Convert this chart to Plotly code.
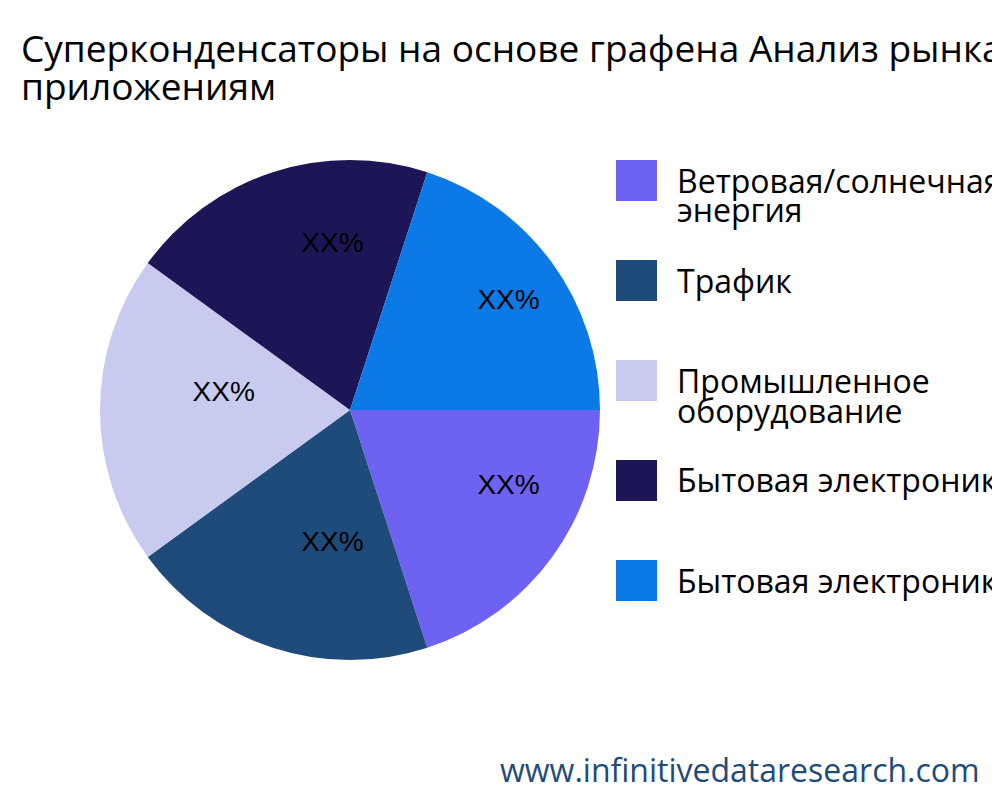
import plotly.graph_objects as go

W, H = 992, 776

title_lines = ["Суперконденсаторы на основе графена Анализ рынка по", "приложениям"]
categories = [
    ["Ветровая/солнечная", "энергия"],
    ["Трафик"],
    ["Промышленное", "оборудование"],
    ["Бытовая электроника"],
    ["Бытовая электроника"],
]
values = [20, 20, 20, 20, 20]
slice_text = ["XX%", "XX%", "XX%", "XX%", "XX%"]
colors = ["#6E62F2", "#1F4B7A", "#C9CAF0", "#1C1656", "#0B79E6"]
watermark = "www.infinitivedataresearch.com"

FONT = "Open Sans"
OFF = 8  # the page body margin shifts the figure by 8 px


def px(x):
    return (x - OFF) / W


def py(y):
    return 1 - (y - OFF) / H


# pie labels must be unique, otherwise plotly merges the two identical names
pie_labels = [" ".join(c) + "\u200b" * i for i, c in enumerate(categories)]

# padding pushes the visible label right of and above the slice bisector
pad = "\u00a0" * 8
fig = go.Figure(go.Pie(
    labels=pie_labels,
    values=values,
    text=[pad + t + "<br>\u00a0" for t in slice_text],
    textinfo="text",
    textposition="inside",
    insidetextorientation="horizontal",
    insidetextfont=dict(family="Liberation Sans", size=28, color="black"),
    marker=dict(colors=colors),
    sort=False,
    direction="clockwise",
    rotation=90,
    showlegend=False,
    domain=dict(x=[px(100), px(600)], y=[py(660), py(160)]),
))

# legend drawn by hand: big square swatches, one row every 100 px
shapes = []
annotations = []
for i, (lines, col) in enumerate(zip(categories, colors)):
    top = 160 + 100 * i
    shapes.append(dict(type="rect", xref="paper", yref="paper",
                       x0=px(616), x1=px(657), y0=py(top), y1=py(top + 41),
                       fillcolor=col, line=dict(width=0)))
    for j, line in enumerate(lines):
        annotations.append(dict(
            text=line, xref="paper", yref="paper",
            x=px(675), y=py(top + 20 + 30 * j),
            xanchor="left", yanchor="middle", showarrow=False,
            font=dict(family=FONT, size=32, color="black"),
        ))

for j, line in enumerate(title_lines):
    annotations.append(dict(
        text=line, xref="paper", yref="paper",
        x=px(19), y=py(47 + 39 * j),
        xanchor="left", yanchor="middle", showarrow=False,
        font=dict(family=FONT, size=37, color="black"),
    ))

annotations.append(dict(
    text=watermark, xref="paper", yref="paper",
    x=px(982), y=py(769), xanchor="right", yanchor="middle", showarrow=False,
    font=dict(family=FONT, size=32, color="#1F4B7A"),
))

fig.update_layout(
    width=W,
    height=H,
    font=dict(family=FONT, size=28, color="black"),
    margin=dict(l=0, r=0, t=0, b=0),
    paper_bgcolor="white",
    shapes=shapes,
    annotations=annotations,
)

fig.write_html("out.html")
